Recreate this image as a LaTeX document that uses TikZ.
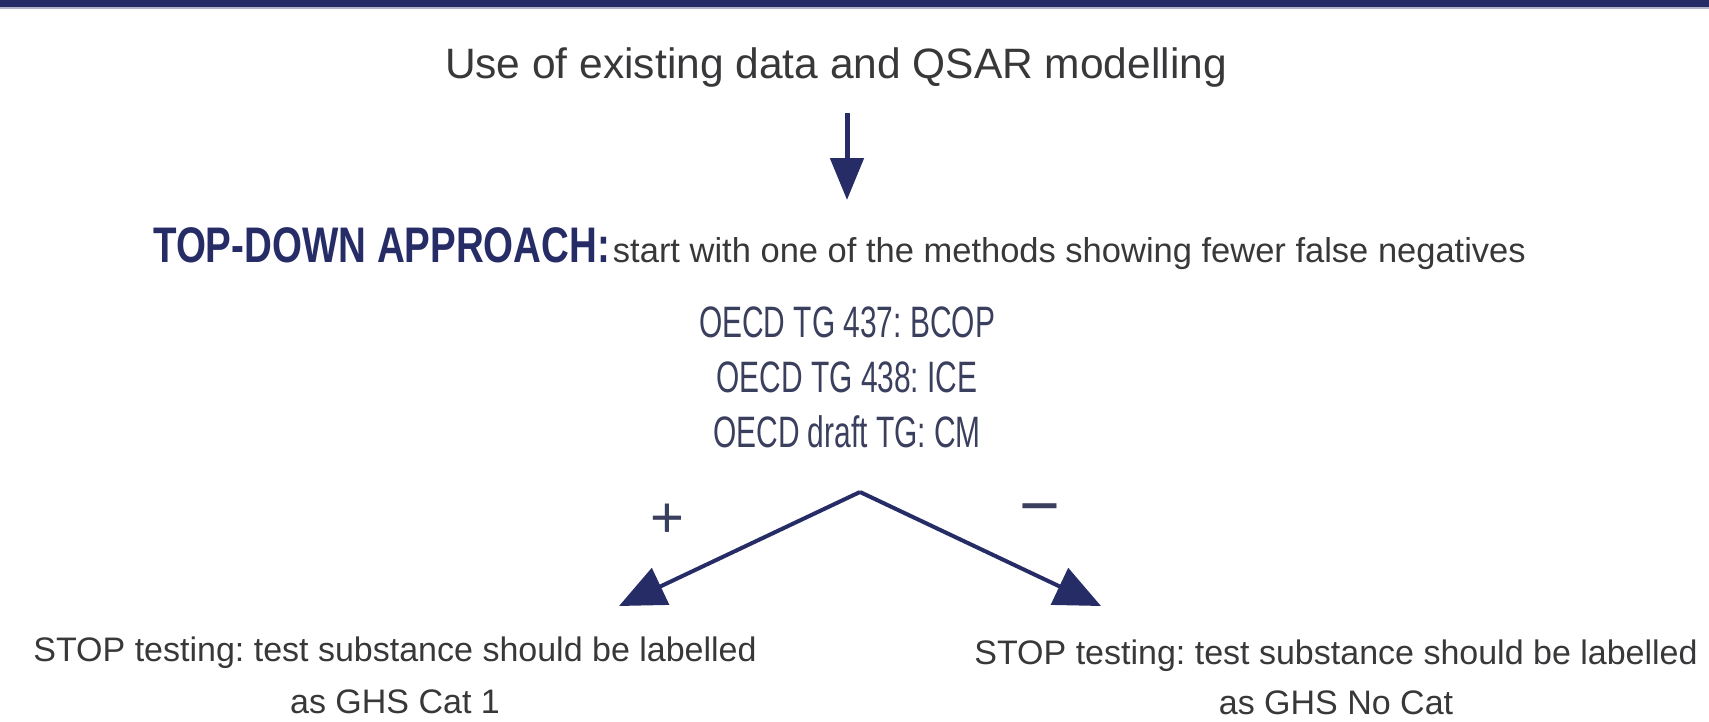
\documentclass[tikz,border=0pt]{standalone}
\usepackage{fontspec}
\setmainfont{Liberation Sans}
\newfontfamily\headface{Liberation Sans}[FakeStretch=0.77]
\newfontfamily\testface{Liberation Sans}[FakeStretch=0.68]
\usetikzlibrary{arrows.meta}
\definecolor{navy}{HTML}{262C66}
\definecolor{ink}{HTML}{38383A}
\definecolor{slate}{HTML}{3B3F5E}
\frenchspacing
\begin{document}
\begin{tikzpicture}[x=1pt,y=-1pt,
        txt/.style={inner sep=0pt,text=ink,anchor=base},
        oecd/.style={txt,text=slate,font=\testface\fontsize{44}{50}\selectfont},
        stop/.style={txt,font=\fontsize{34}{40}\selectfont},
        sign/.style={inner sep=0pt,text=slate,font=\fontsize{58}{58}\selectfont},
        flow/.style={draw=navy,line width=4pt,-{Triangle[length=46pt,width=40pt]}}]
    \useasboundingbox (0,0) rectangle (1709,721);
    \fill[navy] (0,0) rectangle (1709,7);
    \fill[navy!35] (0,7) rectangle (1709,9);

    \node[txt] (existing) at (836,78) {\fontsize{42.5}{50}\selectfont Use of existing data and QSAR modelling};
    \coordinate (down1) at (847,113);
    \coordinate (down2) at (847,200);
    \draw[draw=navy,line width=5pt,-{Triangle[length=42pt,width=33pt]}] (down1) -- (down2);

    \node[txt,anchor=base west] (approach) at (153,262) {{\color{navy}\headface\fontsize{50}{56}\selectfont\bfseries TOP-DOWN APPROACH:} \fontsize{34.5}{40}\selectfont start with one of the methods showing fewer false negatives};

    \node[oecd] (bcop) at (847,337) {OECD TG 437: BCOP};
    \node[oecd] (ice) at (847,392) {OECD TG 438: ICE};
    \node[oecd] (cm) at (847,447) {OECD draft TG: CM};

    \coordinate (apex) at (860,492);
    \coordinate (tipL) at (619,606);
    \coordinate (tipR) at (1101,606);
    \draw[flow] (apex) -- (tipL);
    \draw[flow] (apex) -- (tipR);
    \node[sign] (plus) at (667,521) {+};
    \node[sign,font=\fontsize{70}{70}\selectfont] (minus) at (1040,517) {−};

    % outcomes
    \node[stop] (cat1a) at (395,661) {STOP testing: test substance should be labelled};
    \node[stop] (cat1b) at (395,713) {as GHS Cat 1};
    \node[stop] (nocata) at (1336,664) {STOP testing: test substance should be labelled};
    \node[stop] (nocatb) at (1336,714) {as GHS No Cat};
\end{tikzpicture}
\end{document}
